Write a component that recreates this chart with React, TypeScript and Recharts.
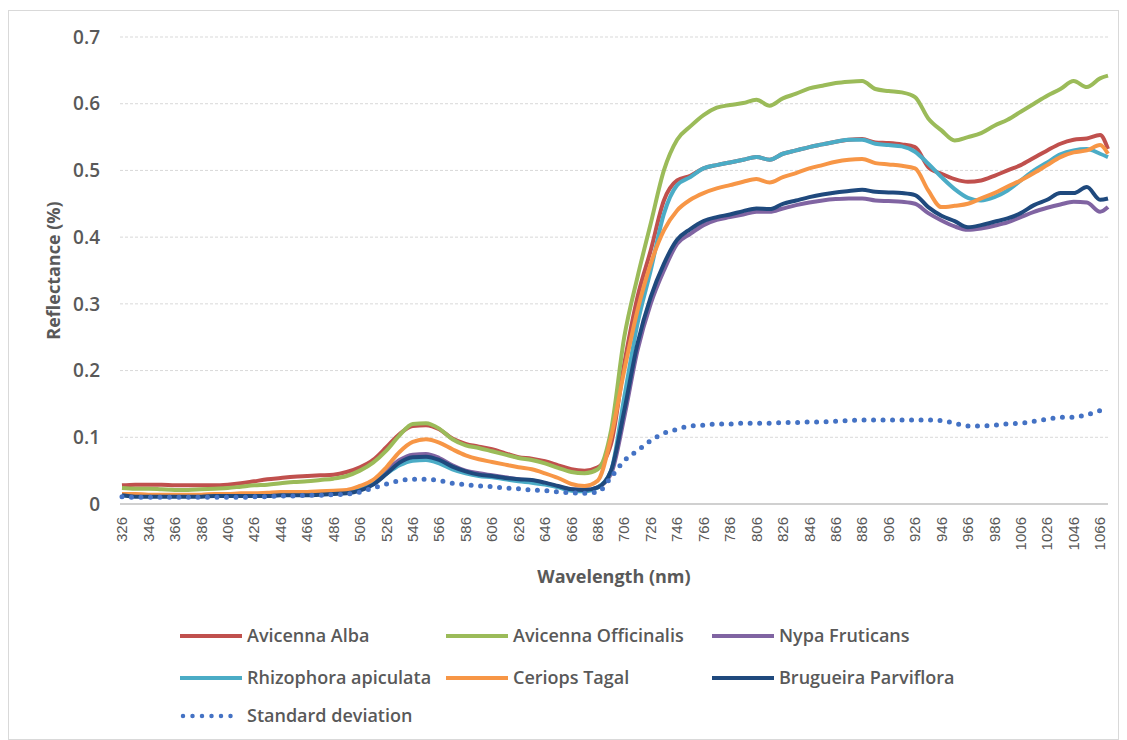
import { LineChart, Line, XAxis, YAxis, CartesianGrid, Legend, Label } from "recharts";

const wavelengths = [
  326, 336, 346, 356, 366, 376, 386, 396, 406, 416, 426, 436, 446, 456, 466, 476, 486, 496, 506, 516,
  526, 536, 546, 556, 566, 576, 586, 596, 606, 616, 626, 636, 646, 656, 666, 676, 686, 696, 706, 716,
  726, 736, 746, 756, 766, 776, 786, 796, 806, 816, 826, 836, 846, 856, 866, 876, 886, 896, 906, 916,
  926, 936, 946, 956, 966, 976, 986, 996, 1006, 1016, 1026, 1036, 1046, 1056, 1066, 1072,
];

const avicennaAlba = [
  0.028, 0.029, 0.029, 0.029, 0.028, 0.028, 0.028, 0.028, 0.029, 0.031, 0.034, 0.037, 0.039, 0.041, 0.042, 0.043, 0.044, 0.048, 0.055, 0.066,
  0.085, 0.105, 0.117, 0.118, 0.112, 0.098, 0.09, 0.086, 0.082, 0.076, 0.07, 0.068, 0.064, 0.058, 0.052, 0.05, 0.055, 0.09, 0.21, 0.31,
  0.38, 0.455, 0.485, 0.492, 0.503, 0.508, 0.512, 0.516, 0.52, 0.516, 0.525, 0.53, 0.535, 0.539, 0.543, 0.546, 0.547, 0.542, 0.541, 0.539,
  0.535, 0.505, 0.495, 0.487, 0.483, 0.485, 0.492, 0.5, 0.508, 0.519, 0.53, 0.54, 0.546, 0.548, 0.553, 0.532,
];

const avicennaOfficinalis = [
  0.024, 0.023, 0.023, 0.022, 0.021, 0.021, 0.022, 0.023, 0.024, 0.026, 0.028, 0.029, 0.031, 0.033, 0.034, 0.036, 0.038, 0.042, 0.05, 0.062,
  0.08, 0.103, 0.12, 0.121, 0.113, 0.097, 0.088, 0.084, 0.079, 0.074, 0.069, 0.066, 0.061, 0.054, 0.048, 0.046, 0.052, 0.11, 0.25, 0.34,
  0.42, 0.5, 0.546, 0.566, 0.583, 0.594, 0.598, 0.601, 0.606, 0.597, 0.608, 0.615, 0.623, 0.627, 0.631, 0.633, 0.634, 0.622, 0.619, 0.617,
  0.61, 0.578, 0.56, 0.545, 0.55, 0.556, 0.567, 0.576, 0.588, 0.6, 0.612, 0.622, 0.634, 0.625, 0.638, 0.642,
];

const nypaFruticans = [
  0.015, 0.013, 0.013, 0.012, 0.012, 0.012, 0.012, 0.013, 0.013, 0.013, 0.014, 0.014, 0.015, 0.015, 0.016, 0.016, 0.017, 0.019, 0.023, 0.033,
  0.05, 0.066, 0.074, 0.075, 0.069, 0.058, 0.05, 0.046, 0.043, 0.04, 0.037, 0.035, 0.031, 0.026, 0.022, 0.021, 0.025, 0.045, 0.13, 0.23,
  0.3, 0.35, 0.39, 0.405, 0.418, 0.426, 0.43, 0.434, 0.438, 0.438, 0.443, 0.448, 0.452, 0.455, 0.457, 0.458, 0.458, 0.455, 0.454, 0.453,
  0.45, 0.436, 0.425, 0.416, 0.411, 0.413, 0.417, 0.422, 0.43, 0.438, 0.444, 0.449, 0.453, 0.452, 0.438, 0.445,
];

const rhizophoraApiculata = [
  0.013, 0.012, 0.012, 0.012, 0.012, 0.012, 0.012, 0.012, 0.012, 0.013, 0.013, 0.013, 0.014, 0.014, 0.015, 0.015, 0.016, 0.018, 0.022, 0.03,
  0.045, 0.058, 0.065, 0.066, 0.061, 0.052, 0.046, 0.042, 0.04, 0.037, 0.034, 0.032, 0.029, 0.025, 0.02, 0.019, 0.025, 0.05, 0.16, 0.27,
  0.35, 0.435, 0.478, 0.49, 0.503, 0.508, 0.512, 0.516, 0.52, 0.516, 0.525, 0.53, 0.535, 0.539, 0.543, 0.546, 0.546, 0.54, 0.538, 0.536,
  0.528, 0.51, 0.49, 0.472, 0.459, 0.455, 0.46, 0.47, 0.485, 0.5, 0.512, 0.524, 0.53, 0.532, 0.525, 0.52,
];

const ceriopsTagal = [
  0.015, 0.015, 0.014, 0.014, 0.014, 0.014, 0.014, 0.015, 0.015, 0.016, 0.016, 0.017, 0.018, 0.018, 0.018, 0.019, 0.02, 0.021, 0.027, 0.036,
  0.055, 0.078, 0.093, 0.097, 0.092, 0.082, 0.073, 0.067, 0.063, 0.059, 0.055, 0.052, 0.046, 0.039, 0.03, 0.027, 0.035, 0.1, 0.2, 0.29,
  0.36, 0.41, 0.44, 0.456, 0.466, 0.473, 0.478, 0.483, 0.487, 0.482, 0.49, 0.496, 0.503, 0.508, 0.513, 0.516, 0.517, 0.511, 0.509, 0.507,
  0.503, 0.47, 0.445, 0.447, 0.45, 0.458, 0.466, 0.476, 0.485, 0.496, 0.508, 0.52, 0.527, 0.53, 0.538, 0.525,
];

const brugueiraParviflora = [
  0.013, 0.011, 0.011, 0.011, 0.011, 0.011, 0.011, 0.012, 0.012, 0.012, 0.012, 0.012, 0.013, 0.013, 0.013, 0.014, 0.015, 0.016, 0.02, 0.029,
  0.045, 0.062, 0.07, 0.071, 0.066, 0.056, 0.049, 0.044, 0.042, 0.039, 0.037, 0.036, 0.032, 0.027, 0.022, 0.021, 0.025, 0.05, 0.14, 0.24,
  0.31, 0.36, 0.396, 0.412, 0.424, 0.43, 0.434, 0.439, 0.443, 0.442, 0.45, 0.455, 0.46, 0.464, 0.467, 0.469, 0.471, 0.468, 0.467, 0.466,
  0.463, 0.445, 0.432, 0.424, 0.415, 0.418, 0.423, 0.428, 0.436, 0.448, 0.456, 0.466, 0.466, 0.475, 0.456, 0.458,
];

const standardDeviation = [
  0.011, 0.01, 0.01, 0.01, 0.01, 0.01, 0.01, 0.01, 0.01, 0.01, 0.011, 0.011, 0.012, 0.012, 0.013, 0.013, 0.014, 0.015, 0.018, 0.024,
  0.03, 0.035, 0.037, 0.037, 0.035, 0.031, 0.029, 0.027, 0.026, 0.024, 0.023, 0.021, 0.02, 0.018, 0.017, 0.016, 0.018, 0.04, 0.065, 0.08,
  0.095, 0.106, 0.112, 0.117, 0.118, 0.12, 0.12, 0.121, 0.121, 0.121, 0.122, 0.122, 0.123, 0.123, 0.124, 0.125, 0.126, 0.126, 0.126, 0.126,
  0.126, 0.126, 0.125, 0.121, 0.117, 0.117, 0.118, 0.12, 0.121, 0.124, 0.127, 0.13, 0.13, 0.134, 0.14, 0.146,
];

const xTicks = [
  326, 346, 366, 386, 406, 426, 446, 466, 486, 506, 526, 546, 566, 586, 606, 626, 646, 666, 686, 706,
  726, 746, 766, 786, 806, 826, 846, 866, 886, 906, 926, 946, 966, 986, 1006, 1026, 1046, 1066,
];
const yTicks = [0, 0.1, 0.2, 0.3, 0.4, 0.5, 0.6, 0.7];

const series = [
  { key: "alba", name: "Avicenna Alba", color: "#C0504D", values: avicennaAlba },
  { key: "officinalis", name: "Avicenna Officinalis", color: "#9BBB59", values: avicennaOfficinalis },
  { key: "nypa", name: "Nypa Fruticans", color: "#8064A2", values: nypaFruticans },
  { key: "rhizophora", name: "Rhizophora apiculata", color: "#4BACC6", values: rhizophoraApiculata },
  { key: "ceriops", name: "Ceriops Tagal", color: "#F79646", values: ceriopsTagal },
  { key: "brugueira", name: "Brugueira Parviflora", color: "#1F497D", values: brugueiraParviflora },
];
const sdColor = "#4472C4";

const data = wavelengths.map((wl, i) => {
  const row: Record<string, number> = { wl, sd: standardDeviation[i] };
  series.forEach((s) => (row[s.key] = s.values[i]));
  return row;
});

const GREY = "#595959";
const SANS = "'Open Sans', sans-serif";

function XTick(props: any) {
  const { x, y, payload } = props;
  return (
    <text
      x={x}
      y={y}
      transform={`rotate(-90 ${x} ${y})`}
      textAnchor="end"
      dy="0.35em"
      fontSize={15}
      fontFamily="'Liberation Sans', Arial, sans-serif"
      fill={GREY}
    >
      {payload.value}
    </text>
  );
}

function ChartLegend() {
  const items = [
    ...series.map((s) => ({ name: s.name, color: s.color, dotted: false })),
    { name: "Standard deviation", color: sdColor, dotted: true },
  ];
  const cols = [171, 437, 703];
  const rows = [27, 69, 107];
  return (
    <svg width={1109} height={130} style={{ display: "block" }}>
      {items.map((it, i) => {
        const cx = cols[i % 3];
        const cy = rows[Math.floor(i / 3)];
        return (
          <g key={it.name}>
            {it.dotted ? (
              <line x1={cx + 3} y1={cy} x2={cx + 60} y2={cy} stroke={it.color} strokeWidth={4.5} strokeDasharray="0 9.5" strokeLinecap="round" />
            ) : (
              <line x1={cx} y1={cy} x2={cx + 62} y2={cy} stroke={it.color} strokeWidth={4} />
            )}
            <text x={cx + 67} y={cy} dy="0.35em" fontSize={18} fontWeight={600} fontFamily={SANS} fill={GREY}>
              {it.name}
            </text>
          </g>
        );
      })}
    </svg>
  );
}

export default function App() {
  return (
    <div style={{ marginTop: 2, width: 1109, height: 728, border: "1px solid #d9d9d9", background: "#fff" }}>
      <LineChart width={1109} height={728} data={data} margin={{ top: 26, right: 10, left: 0, bottom: 0 }}>
        <CartesianGrid vertical={false} stroke="#d9d9d9" strokeDasharray="3 2" />
        <XAxis
          dataKey="wl"
          type="number"
          domain={[324.5, 1072]}
          ticks={xTicks}
          interval={0}
          height={105}
          tick={<XTick />}
          tickLine={false}
          tickSize={0}
          tickMargin={13}
          axisLine={{ stroke: "#d0d0d0", strokeWidth: 2 }}
        >
          <Label
            value="Wavelength (nm)"
            position="insideTop"
            offset={66}
            fontSize={18}
            fontWeight={700}
            fontFamily={SANS}
            fill={GREY}
          />
        </XAxis>
        <YAxis
          domain={[0, 0.7]}
          ticks={yTicks}
          width={111}
          tickLine={false}
          axisLine={false}
          tickSize={0}
          tickMargin={20}
          tick={{ fontSize: 19, fontWeight: 600, fontFamily: SANS, fill: GREY }}
        >
          <Label
            content={(p: any) => {
              const vb = p.viewBox;
              const cx = 45;
              const cy = vb.y + vb.height / 2;
              return (
                <text
                  x={cx}
                  y={cy}
                  transform={`rotate(-90 ${cx} ${cy})`}
                  textAnchor="middle"
                  dy="0.35em"
                  fontSize={18}
                  fontWeight={700}
                  fontFamily={SANS}
                  fill={GREY}
                >
                  Reflectance (%)
                </text>
              );
            }}
          />
        </YAxis>
        <Legend
          verticalAlign="bottom"
          content={() => <ChartLegend />}
          wrapperStyle={{ left: 0, width: 1109, height: 130 }}
        />
        {series.map((s) => (
          <Line
            key={s.key}
            dataKey={s.key}
            name={s.name}
            type="monotone"
            stroke={s.color}
            strokeWidth={4}
            dot={false}
            strokeLinejoin="round"
            isAnimationActive={false}
          />
        ))}
        <Line
          dataKey="sd"
          name="Standard deviation"
          type="monotone"
          stroke={sdColor}
          strokeWidth={5}
          strokeDasharray="0 9.5"
          strokeLinecap="round"
          dot={false}
          isAnimationActive={false}
        />
      </LineChart>
    </div>
  );
}
